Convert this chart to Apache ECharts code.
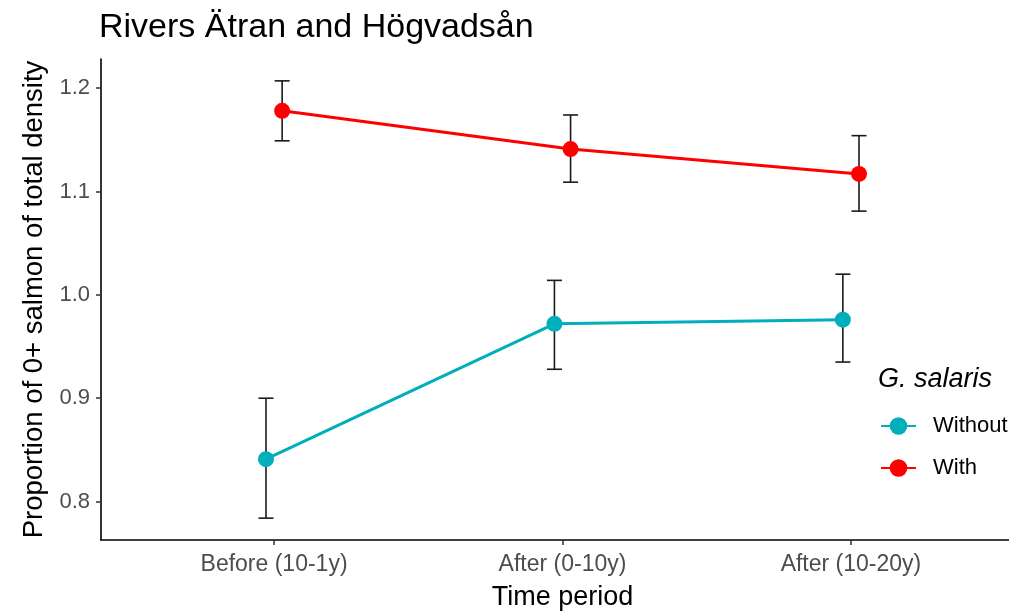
<!DOCTYPE html>
<html>
<head>
<meta charset="utf-8">
<script src="https://cdn.jsdelivr.net/npm/echarts@6/dist/echarts.min.js"></script>
<style>
  html, body { margin: 0; padding: 0; background: #fff; }
  #chart { width: 1009px; height: 611px; }
</style>
</head>
<body>
<div id="chart"></div>
<script>
// ---- data ----
const categories = ['Before (10-1y)', 'After (0-10y)', 'After (10-20y)'];
const yTicks = [0.8, 0.9, 1.0, 1.1, 1.2];
const withoutMean = [0.841, 0.972, 0.976];
const withoutLow  = [0.784, 0.928, 0.935];
const withoutHigh = [0.900, 1.014, 1.020];
const withMean = [1.178, 1.141, 1.117];
const withLow  = [1.149, 1.109, 1.081];
const withHigh = [1.207, 1.174, 1.154];
const groupNames = ['Without', 'With'];
const legendTitle = 'G. salaris';

// ---- layout helpers ----
const FONT = '"Liberation Sans", Arial, sans-serif';
const DODGE = 0.028;      // half dodge offset in category units
const CAP = 0.026;        // half cap width in category units
const X_MIN = 0.4, X_MAX = 3.6;   // ggplot discrete expansion (panel cut off at the right edge)
const teal = '#00AFBB';
const red = '#FF0000';

const allLow = withoutLow.concat(withLow);
const allHigh = withoutHigh.concat(withHigh);
const lo = Math.min.apply(null, allLow), hi = Math.max.apply(null, allHigh);
const pad = 0.05 * (hi - lo);

function pts(means, off) { return means.map((v, i) => [i + 1 + off, v]); }
function bars(low, high, off) { return low.map((v, i) => [i + 1 + off, v, high[i]]); }

function renderErr(params, api) {
  const x = api.value(0);
  const p1 = api.coord([x, api.value(1)]);
  const p2 = api.coord([x, api.value(2)]);
  const hw = api.size([CAP, 0])[0];
  const st = { stroke: '#1a1a1a', lineWidth: 1.6 };
  return {
    type: 'group',
    children: [
      { type: 'line', shape: { x1: p1[0], y1: p1[1], x2: p2[0], y2: p2[1] }, style: st },
      { type: 'line', shape: { x1: p1[0] - hw, y1: p1[1], x2: p1[0] + hw, y2: p1[1] }, style: st },
      { type: 'line', shape: { x1: p2[0] - hw, y1: p2[1], x2: p2[0] + hw, y2: p2[1] }, style: st }
    ]
  };
}

const chart = echarts.init(document.getElementById('chart'), null, { renderer: 'canvas' });
chart.setOption({
  animation: false,
  backgroundColor: '#ffffff',
  title: {
    text: 'Rivers Ätran and Högvadsån',
    left: 99, top: 11, padding: 0,
    textStyle: { fontFamily: FONT, fontSize: 34, fontWeight: 'normal', color: '#000' }
  },
  graphic: [{
    type: 'text', left: 878, top: 366,
    style: { text: legendTitle, font: 'italic 27px ' + FONT, fill: '#000' }
  }],
  legend: {
    data: groupNames,
    orient: 'vertical',
    left: 875, top: 410,
    itemWidth: 35, itemHeight: 22, itemGap: 20,
    textStyle: { fontFamily: FONT, fontSize: 22, color: '#000', lineHeight: 22, padding: [0, 0, 0, 12] }
  },
  grid: { left: 101, top: 59, width: 923, height: 481, outerBoundsMode: 'none', containLabel: false },
  xAxis: {
    type: 'value', min: X_MIN, max: X_MAX,
    name: 'Time period', nameLocation: 'middle', nameGap: 44,
    nameTextStyle: { fontFamily: FONT, fontSize: 27, color: '#000' },
    axisLine: { show: true, lineStyle: { color: '#000', width: 1.6 } },
    axisTick: { show: true, customValues: [1, 2, 3], length: 5, lineStyle: { color: '#333', width: 1.5 } },
    axisLabel: {
      customValues: [1, 2, 3], margin: 13,
      formatter: v => categories[Math.round(v) - 1] || '',
      fontFamily: FONT, fontSize: 23, color: '#4D4D4D'
    },
    splitLine: { show: false }
  },
  yAxis: {
    type: 'value', min: lo - pad, max: hi + pad,
    name: 'Proportion of 0+ salmon of total density', nameLocation: 'middle', nameGap: 48,
    nameTextStyle: { fontFamily: FONT, fontSize: 27.5, color: '#000' },
    axisLine: { show: true, lineStyle: { color: '#000', width: 1.6 } },
    axisTick: { show: true, customValues: yTicks, length: 5, lineStyle: { color: '#333', width: 1.5 } },
    axisLabel: {
      customValues: yTicks, margin: 11,
      formatter: v => v.toFixed(1),
      fontFamily: FONT, fontSize: 22, color: '#4D4D4D'
    },
    splitLine: { show: false }
  },
  series: [
    { type: 'custom', name: 'errWithout', renderItem: renderErr, data: bars(withoutLow, withoutHigh, -DODGE), z: 1, silent: true },
    { type: 'custom', name: 'errWith', renderItem: renderErr, data: bars(withLow, withHigh, DODGE), z: 1, silent: true },
    {
      type: 'line', name: groupNames[0], data: pts(withoutMean, -DODGE), z: 3,
      symbol: 'circle', symbolSize: 16,
      lineStyle: { color: teal, width: 3 }, itemStyle: { color: teal }
    },
    {
      type: 'line', name: groupNames[1], data: pts(withMean, DODGE), z: 3,
      symbol: 'circle', symbolSize: 16,
      lineStyle: { color: red, width: 3 }, itemStyle: { color: red }
    }
  ]
});
</script>
</body>
</html>
